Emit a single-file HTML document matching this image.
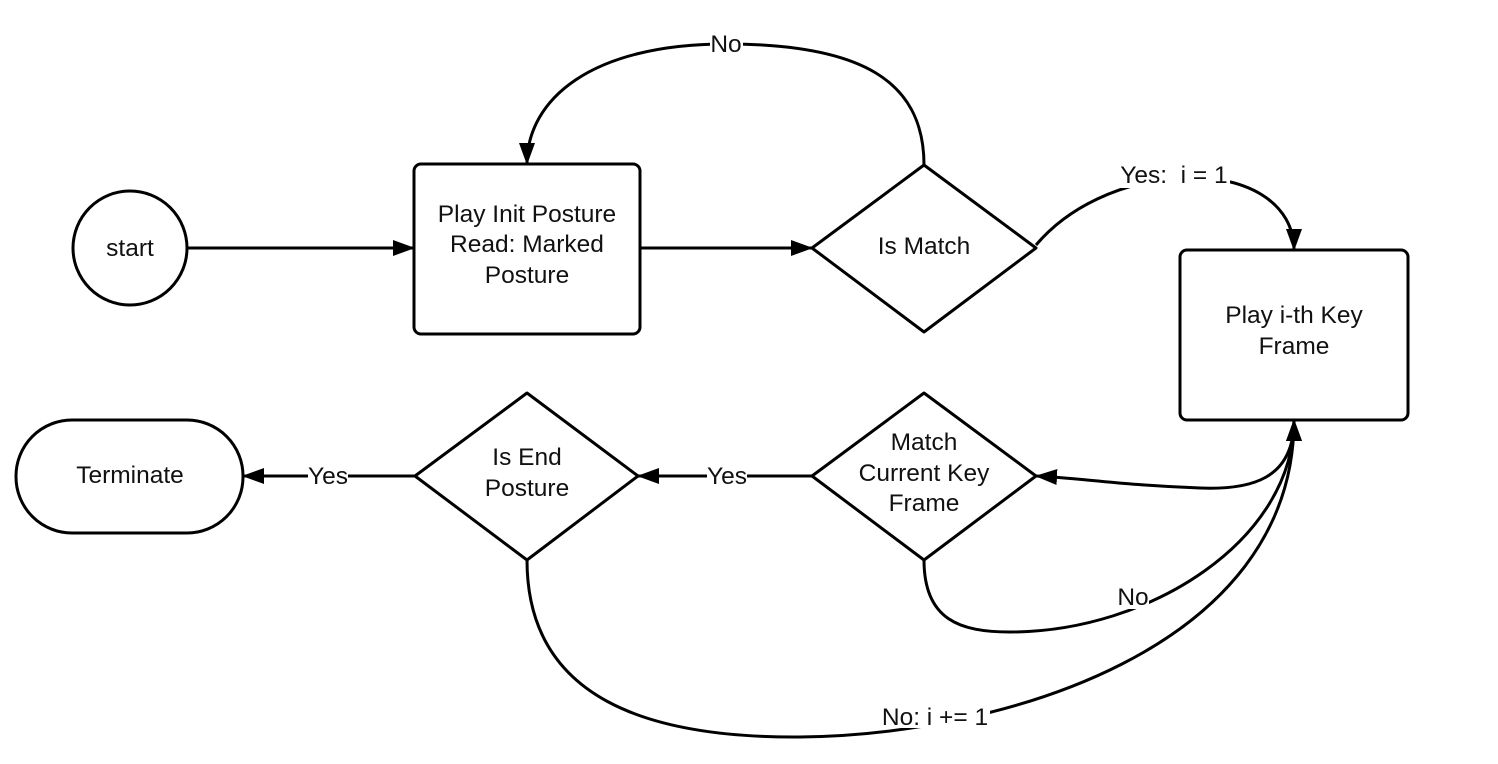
<!DOCTYPE html>
<html><head><meta charset="utf-8"><style>
html,body{margin:0;padding:0;background:#fff;}
svg{display:block;}
text{font-family:"Liberation Sans",sans-serif;font-size:24.5px;fill:#111;}
</style></head><body>
<svg width="1498" height="764" viewBox="0 0 1498 764" xmlns="http://www.w3.org/2000/svg">
<defs>
<marker id="a" markerWidth="22" markerHeight="16" refX="21" refY="8" orient="auto" markerUnits="userSpaceOnUse">
<path d="M0,0 L22,8 L0,16 z" fill="#000"/>
</marker>
</defs>
<g fill="none" stroke="#000" stroke-width="3">
<circle cx="130" cy="248" r="57" fill="#fff"/>
<rect x="414" y="164" width="226" height="170" rx="7" fill="#fff"/>
<path d="M924,165 L1036,248 L924,332 L812,248 Z" stroke-linejoin="round" fill="#fff"/>
<rect x="1180" y="250" width="228" height="170" rx="7" fill="#fff"/>
<path d="M924,393 L1036,476 L924,560 L812,476 Z" stroke-linejoin="round" fill="#fff"/>
<path d="M527,393 L638,476 L527,560 L415,476 Z" stroke-linejoin="round" fill="#fff"/>
<rect x="16" y="420" width="227" height="113" rx="56" fill="#fff"/>
<path d="M187,248 L414,248" marker-end="url(#a)"/>
<path d="M640,248 L812,248" marker-end="url(#a)"/>
<path d="M924,165 C924,80 860,44 726,44 C590,44 527,100 527,164" marker-end="url(#a)"/>
<path d="M1036,245 C1070,205 1120,185 1170,178 C1250,172 1294,205 1294,250" marker-end="url(#a)"/>
<path d="M1294,420 C1294,480 1250,490 1200,488 C1120,485 1080,478 1036,476" marker-end="url(#a)"/>
<path d="M924,560 C924,620 960,632 1010,632 C1150,632 1294,540 1294,420" marker-end="url(#a)"/>
<path d="M527,560 C527,700 650,738 800,737 C1000,735 1294,650 1294,420" marker-end="url(#a)"/>
<path d="M812,476 L638,476" marker-end="url(#a)"/>
<path d="M415,476 L243,476" marker-end="url(#a)"/>
</g>
<g fill="#fff">
<rect x="710" y="32" width="33" height="24"/>
<rect x="1118" y="164" width="112" height="24"/>
<rect x="1117" y="585" width="32" height="24"/>
<rect x="880" y="704" width="110" height="24"/>
<rect x="707" y="464" width="40" height="24"/>
<rect x="308" y="464" width="40" height="24"/>
</g>
<g text-anchor="middle">
<text x="130" y="256">start</text>
<text x="527" y="222">Play Init Posture</text>
<text x="527" y="252">Read: Marked</text>
<text x="527" y="283">Posture</text>
<text x="924" y="254">Is Match</text>
<text x="1294" y="323">Play i-th Key</text>
<text x="1294" y="354">Frame</text>
<text x="924" y="450">Match</text>
<text x="924" y="481">Current Key</text>
<text x="924" y="511">Frame</text>
<text x="527" y="465">Is End</text>
<text x="527" y="496">Posture</text>
<text x="130" y="483">Terminate</text>
<text x="726" y="52">No</text>
<text x="1174" y="183">Yes:&#160; i = 1</text>
<text x="1133" y="605">No</text>
<text x="935" y="725">No: i += 1</text>
<text x="727" y="484">Yes</text>
<text x="328" y="484">Yes</text>
</g>
</svg>
</body></html>
